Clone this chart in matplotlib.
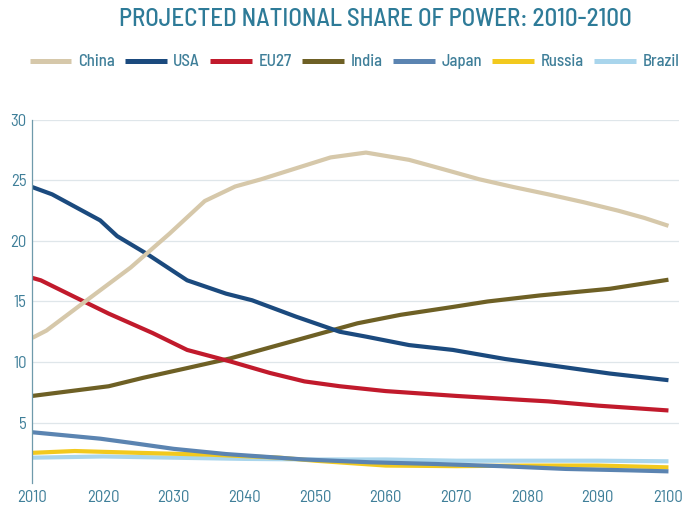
import matplotlib
matplotlib.use("Agg")
import matplotlib.pyplot as plt

# ── data ─────────────────────────────────────────────────────────────────────
china_x = [2010, 2012, 2017.7, 2023.9, 2029.4, 2034.4, 2038.7, 2042.4, 2047.3, 2052.2,
           2057.2, 2063.3, 2068.3, 2073.2, 2078.1, 2083, 2088, 2092.9, 2096.6, 2100]
china_y = [12.0, 12.6, 15.1, 17.8, 20.6, 23.3, 24.5, 25.1, 26.0, 26.9,
           27.3, 26.7, 25.9, 25.1, 24.45, 23.85, 23.2, 22.5, 21.9, 21.25]

usa_x = [2010, 2012.8, 2019.6, 2022, 2026.3, 2031.9, 2037.4, 2041.1, 2047.3, 2053.5,
         2057.2, 2063.3, 2069.5, 2076.9, 2084.3, 2091.7, 2100]
usa_y = [24.45, 23.85, 21.7, 20.4, 18.9, 16.75, 15.65, 15.1, 13.75, 12.5,
         12.1, 11.4, 11.0, 10.25, 9.65, 9.05, 8.5]

eu_x = [2010, 2011.2, 2015.9, 2020.8, 2027, 2031.9, 2038, 2043.6, 2048.5, 2053.5,
        2060, 2070, 2080, 2083, 2090, 2100]
eu_y = [16.95, 16.75, 15.4, 14.0, 12.4, 11.0, 10.05, 9.1, 8.4, 8.0,
        7.6, 7.2, 6.85, 6.75, 6.4, 6.0]

india_x = [2010, 2020.8, 2025.7, 2031.9, 2038, 2044.2, 2049.8, 2056, 2062.1, 2069.5,
           2074.4, 2081.8, 2091.7, 2100]
india_y = [7.2, 8.0, 8.7, 9.5, 10.3, 11.3, 12.2, 13.2, 13.9, 14.55,
           15.0, 15.5, 16.05, 16.8]

japan_x = [2010, 2019.6, 2023.9, 2030, 2037.4, 2043.6, 2048.5, 2057.8, 2067, 2076.3,
           2085.5, 2094.8, 2100]
japan_y = [4.2, 3.67, 3.33, 2.83, 2.4, 2.15, 1.95, 1.72, 1.58, 1.4,
           1.17, 1.05, 0.97]

russia_x = [2010, 2016, 2025, 2035, 2045, 2050, 2060, 2070, 2080, 2090, 2100]
russia_y = [2.5, 2.65, 2.5, 2.35, 2.1, 1.85, 1.45, 1.4, 1.45, 1.45, 1.3]

brazil_x = [2010, 2020, 2030, 2040, 2050, 2060, 2070, 2080, 2090, 2100]
brazil_y = [2.1, 2.2, 2.1, 2.0, 1.95, 1.95, 1.85, 1.85, 1.85, 1.8]

x_ticks = list(range(2010, 2101, 10))
y_ticks = [5, 10, 15, 20, 25, 30]

TEAL = '#3f7f99'
series = [
    ('China',  china_x,  china_y,  '#d6c8aa'),
    ('USA',    usa_x,    usa_y,    '#1b4a7e'),
    ('EU27',   eu_x,     eu_y,     '#c11a2c'),
    ('India',  india_x,  india_y,  '#6e6025'),
    ('Japan',  japan_x,  japan_y,  '#5b84b1'),
    ('Russia', russia_x, russia_y, '#f2c91e'),
    ('Brazil', brazil_x, brazil_y, '#a9d5ec'),
]

plt.rcParams['font.family'] = ['Barlow Semi Condensed', 'DejaVu Sans']

fig = plt.figure(figsize=(6.88, 5.08), dpi=100, facecolor='white')
ax = fig.add_axes([0.047, 0.049, 0.94, 0.715])

# draw in reverse so China ends on top of the small ones like the reference
for name, xs, ys, col in reversed(series):
    ax.plot(xs, ys, color=col, lw=3.0, solid_capstyle='butt', label=name)

ax.set_xlim(2010, 2101.5)
ax.set_ylim(0, 30)
ax.set_xticks(x_ticks)
ax.set_yticks(y_ticks)
ax.grid(axis='y', color='#dfe6ea', lw=0.9)
ax.set_axisbelow(True)
for s in ('top', 'right', 'bottom'):
    ax.spines[s].set_visible(False)
ax.spines['left'].set_color('#6f9aab')
ax.spines['left'].set_linewidth(0.9)
ax.tick_params(axis='y', length=0, colors=TEAL, labelsize=12, pad=4)
ax.tick_params(axis='x', length=0, colors=TEAL, labelsize=12, pad=5)

fig.text(0.545, 0.962, 'PROJECTED NATIONAL SHARE OF POWER: 2010-2100',
         ha='center', va='center', color='#2e7b98', fontsize=18, fontweight='medium')

handles, labels = ax.get_legend_handles_labels()
handles, labels = handles[::-1], labels[::-1]
leg = fig.legend(handles, labels, loc='center left', ncol=7, frameon=False,
                 bbox_to_anchor=(0.043, 0.878), handlelength=2.5,
                 handletextpad=0.4, columnspacing=0.62, borderpad=0,
                 borderaxespad=0, prop={'size': 12, 'weight': 'medium'})
for t in leg.get_texts():
    t.set_color(TEAL)
for h in leg.legend_handles:
    h.set_linewidth(3.6)

fig.savefig('out.png', dpi=100, facecolor='white')
